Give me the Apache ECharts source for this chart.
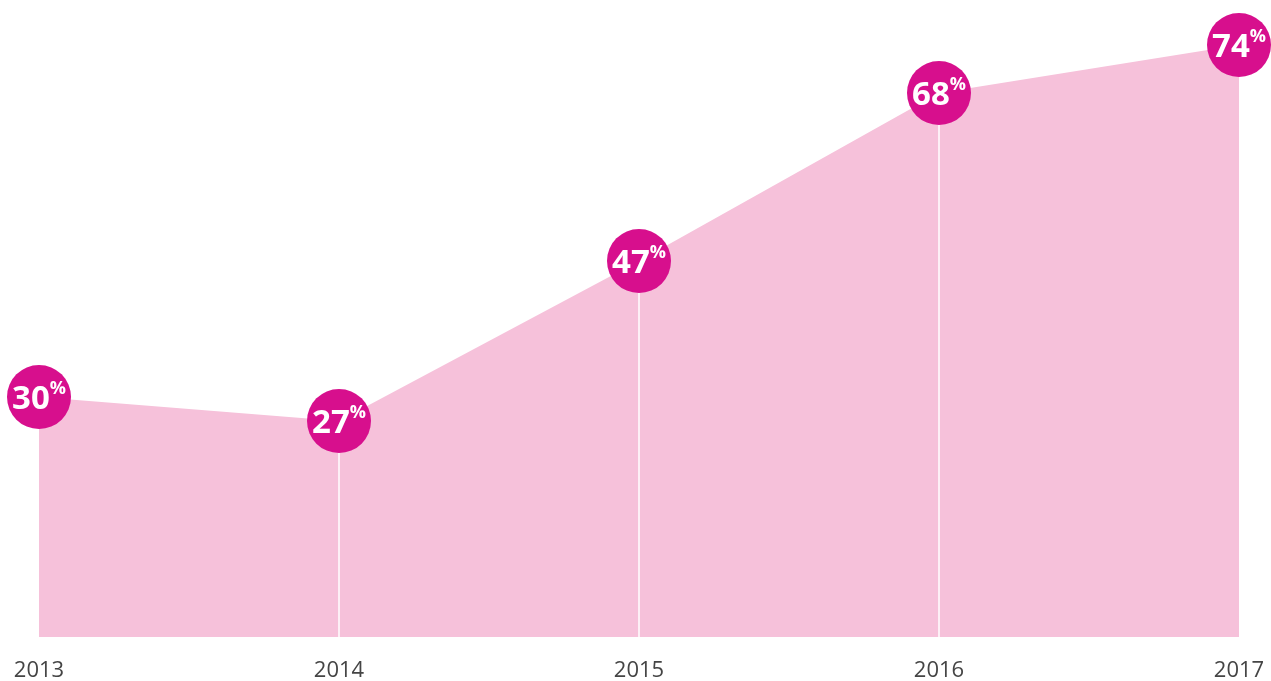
<!DOCTYPE html>
<html>
<head>
<meta charset="utf-8">
<script src="https://cdn.jsdelivr.net/npm/echarts@6/dist/echarts.min.js"></script>
<style>
  html, body { margin: 0; padding: 0; background: #fff; }
  #chart { width: 1271px; height: 681px; }
</style>
</head>
<body>
<div id="chart"></div>
<script>
var years = ['2013', '2014', '2015', '2016', '2017'];
var shares = [30, 27, 47, 68, 74];

var myChart = echarts.init(document.getElementById('chart'));

// white drop lines only for the inner points
var dropLines = shares.map(function (v, i) {
  return (i === 0 || i === shares.length - 1) ? '-' : v;
});

var option = {
  backgroundColor: '#ffffff',
  animation: false,
  grid: {
    left: 39,
    right: 32,
    top: 5,
    bottom: 44,
    outerBoundsMode: 'none'
  },
  xAxis: {
    type: 'category',
    data: years,
    boundaryGap: false,
    axisLine: { show: false },
    axisTick: { show: false },
    axisLabel: {
      color: '#454545',
      fontSize: 22,
      fontFamily: 'Open Sans',
      margin: 23
    }
  },
  yAxis: {
    type: 'value',
    min: 0,
    max: 79,
    show: false,
    splitLine: { show: false }
  },
  series: [
    {
      id: 'area',
      type: 'line',
      data: shares,
      z: 1,
      symbol: 'none',
      lineStyle: { width: 0 },
      areaStyle: { color: '#f6c1da', opacity: 1 }
    },
    {
      id: 'drops',
      type: 'bar',
      data: dropLines,
      z: 2,
      barWidth: 1.5,
      itemStyle: { color: '#ffffff' }
    },
    {
      id: 'dots',
      type: 'line',
      data: shares,
      z: 3,
      clip: false,
      symbol: 'circle',
      symbolSize: 64,
      showSymbol: true,
      lineStyle: { width: 0, opacity: 0 },
      itemStyle: { color: '#d70f8d' },
      label: {
        show: true,
        position: 'inside',
        formatter: function (p) {
          return '{n|' + p.value + '}{p|%}';
        },
        rich: {
          n: {
            color: '#ffffff',
            fontSize: 33,
            fontWeight: 'bold',
            fontFamily: 'Open Sans',
            lineHeight: 34,
            letterSpacing: -1,
            padding: [5, 0, 0, 0]
          },
          p: {
            color: '#ffffff',
            fontSize: 18,
            fontWeight: 'bold',
            fontFamily: 'Open Sans',
            lineHeight: 18,
            verticalAlign: 'top',
            padding: [0, 0, 10, 0]
          }
        }
      }
    }
  ]
};

myChart.setOption(option);
</script>
</body>
</html>
